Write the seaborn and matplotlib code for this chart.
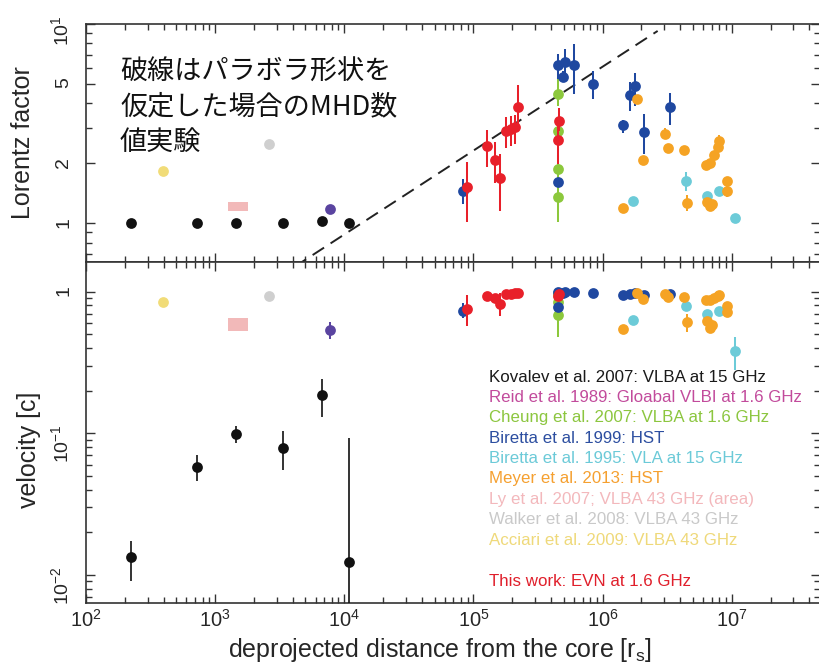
import matplotlib
matplotlib.use("Agg")
import matplotlib.pyplot as plt
import seaborn as sns
from matplotlib.ticker import FixedLocator, FixedFormatter, LogLocator, NullFormatter

# ---------------- data ----------------
# Kovalev et al. 2007 (black)
kov_x = [223, 726, 1455, 3365, 6760, 10900]
kov_gamma = [1.0, 1.0, 1.0, 1.0, 1.03, 1.0]
kov_v = [0.0133, 0.058, 0.099, 0.079, 0.187, 0.0123]
kov_v_lo = [0.0091, 0.046, 0.086, 0.055, 0.13, 0.001]
kov_v_hi = [0.0175, 0.070, 0.112, 0.104, 0.243, 0.093]

# Reid et al. 1989 (purple)
reid_x = [7780]
reid_gamma = [1.175]
reid_v = [0.533]
reid_v_lo = [0.463]
reid_v_hi = [0.607]

# Walker et al. 2008 (grey)
walker_x = [2590]
walker_gamma = [2.5]
walker_v = [0.927]

# Acciari et al. 2009 (yellow)
acc_x = [397]
acc_gamma = [1.84]
acc_v = [0.846]

# Ly et al. 2007 (pink area)
ly_x = [1268, 1810]
ly_gamma_lo = [1.148, 1.148]
ly_gamma_hi = [1.278, 1.278]
ly_v_lo = [0.53, 0.53]
ly_v_hi = [0.652, 0.652]

# Cheung et al. 2007 (green)
ch_x = [454000, 454000, 454000, 454000]
ch_gamma = [4.45, 2.89, 1.88, 1.35]
ch_gamma_lo = [3.9, 2.5, 1.6, 1.02]
ch_gamma_hi = [5.4, 3.3, 2.2, 1.6]
ch_v = [0.98, 0.94, 0.84, 0.68]
ch_v_lo = [0.97, 0.92, 0.80, 0.48]
ch_v_hi = [0.99, 0.96, 0.88, 0.80]

# Biretta et al. 1999 (blue)
b99_x = [82600, 454000, 516000, 492000, 606000, 454000, 841000,
         1.44e6, 1.62e6, 1.78e6, 2.09e6, 3.3e6]
b99_gamma = [1.45, 6.2, 6.46, 5.43, 6.2, 1.61, 5.0, 3.11, 4.4, 4.9, 2.86, 3.82]
b99_gamma_lo = [1.245, 5.3, 5.4, 5.1, 4.48, 1.55, 4.2, 2.85, 3.67, 3.88, 2.23, 3.12]
b99_gamma_hi = [1.66, 7.1, 7.5, 5.8, 7.96, 1.67, 5.8, 3.3, 5.1, 5.7, 3.54, 4.53]
b99_v = [0.734, 0.987, 0.99, 0.983, 0.987, 0.78, 0.98, 0.952, 0.97, 0.975, 0.94, 0.965]
b99_v_lo = [0.65, 0.98, 0.985, 0.975, 0.98, 0.76, 0.97, 0.94, 0.96, 0.965, 0.93, 0.955]
b99_v_hi = [0.83, 0.99, 0.995, 0.99, 0.995, 0.80, 0.99, 0.96, 0.98, 0.985, 0.95, 0.975]

# Biretta et al. 1995 (cyan)
b95_x = [1.72e6, 4.4e6, 6.47e6, 7.98e6, 1.06e7]
b95_gamma = [1.29, 1.64, 1.37, 1.46, 1.07]
b95_gamma_lo = [1.27, 1.45, 1.35, 1.44, 1.06]
b95_gamma_hi = [1.31, 1.82, 1.39, 1.48, 1.08]
b95_v = [0.634, 0.797, 0.696, 0.734, 0.379]
b95_v_lo = [0.61, 0.74, 0.68, 0.72, 0.28]
b95_v_hi = [0.66, 0.85, 0.71, 0.75, 0.48]

# Meyer et al. 2013 (orange)
me_x = [1.44e6, 1.85e6, 2.07e6, 3.04e6, 3.23e6, 4.27e6, 4.53e6, 6.28e6, 6.79e6,
        7.3e6, 7.89e6, 7.98e6, 9.15e6, 9.26e6, 6.47e6, 6.79e6, 7.08e6]
me_gamma = [1.19, 4.2, 2.09, 2.81, 2.38, 2.32, 1.26, 1.97, 2.01,
            2.21, 2.41, 2.58, 1.64, 1.45, 1.28, 1.22, 1.25]
me_gamma_lo = [1.17, 4.05, 2.04, 2.65, 2.33, 2.2, 1.15, 1.93, 1.97,
               2.17, 2.36, 2.42, 1.6, 1.36, 1.25, 1.2, 1.22]
me_gamma_hi = [1.21, 4.35, 2.14, 3.0, 2.43, 2.45, 1.38, 2.01, 2.05,
               2.25, 2.46, 2.78, 1.68, 1.55, 1.31, 1.24, 1.28]
me_v = [0.545, 0.98, 0.888, 0.963, 0.912, 0.917, 0.607, 0.868, 0.87,
        0.90, 0.937, 0.95, 0.797, 0.715, 0.617, 0.555, 0.58]
me_v_lo = [0.535, 0.97, 0.878, 0.953, 0.902, 0.907, 0.516, 0.858, 0.86,
           0.89, 0.927, 0.94, 0.787, 0.705, 0.607, 0.545, 0.57]
me_v_hi = [0.555, 0.99, 0.898, 0.973, 0.922, 0.927, 0.70, 0.878, 0.88,
           0.91, 0.947, 0.96, 0.807, 0.725, 0.627, 0.565, 0.59]

# This work (red)
ew_x = [89300, 128000, 146000, 162000, 180000, 196000, 209000, 221000, 458000, 454000]
ew_gamma = [1.52, 2.44, 2.08, 1.69, 2.92, 2.97, 3.03, 3.85, 3.27, 2.63]
ew_gamma_lo = [1.015, 1.91, 1.59, 1.16, 2.4, 2.45, 2.5, 2.97, 2.9, 1.99]
ew_gamma_hi = [2.03, 2.94, 2.57, 2.23, 3.4, 3.45, 3.5, 4.93, 3.8, 3.2]
ew_v = [0.759, 0.927, 0.903, 0.819, 0.963, 0.97, 0.975, 0.985, 0.963, 0.93]
ew_v_lo = [0.57, 0.90, 0.87, 0.67, 0.95, 0.96, 0.965, 0.975, 0.95, 0.91]
ew_v_hi = [0.95, 0.95, 0.93, 0.98, 0.975, 0.98, 0.985, 0.99, 0.975, 0.95]

# MHD simulation (parabolic shape), dashed line
mhd_x = [3000, 2.67e6]
mhd_gamma = [0.53, 9.23]

legend_labels = [
    "Kovalev et al. 2007: VLBA at 15 GHz",
    "Reid et al. 1989: Gloabal VLBI at 1.6 GHz",
    "Cheung et al. 2007: VLBA at 1.6 GHz",
    "Biretta et al. 1999: HST",
    "Biretta et al. 1995: VLA at 15 GHz",
    "Meyer et al. 2013: HST",
    "Ly et al. 2007; VLBA 43 GHz (area)",
    "Walker et al. 2008: VLBA 43 GHz",
    "Acciari et al. 2009: VLBA 43 GHz",
    "",
    "This work: EVN at 1.6 GHz",
]
legend_colors = ["#1a1a1a", "#c24b9c", "#8cc63f", "#2c4ea0", "#6ccad8",
                 "#f5a030", "#f3b8bc", "#c9c9c9", "#efd97a", "#ffffff", "#e01f2b"]

note_lines = ["破線はパラボラ形状を", "仮定した場合のMHD数", "値実験"]

# colours of the marks
C_BLACK = "#111111"
C_PURPLE = "#5a44a0"
C_GREY = "#cfcfcf"
C_YELLOW = "#f1dc78"
C_PINK = "#f2b9b9"
C_GREEN = "#8cc83c"
C_BLUE = "#1f48a0"
C_CYAN = "#6ccbd8"
C_ORANGE = "#f5a324"
C_RED = "#e8202a"

# ---------------- style ----------------
sns.set_theme(style="ticks")
plt.rcParams["font.family"] = ["Liberation Sans", "Noto Sans CJK JP", "DejaVu Sans"]
plt.rcParams["mathtext.fontset"] = "custom"
plt.rcParams["mathtext.rm"] = "Liberation Sans"
plt.rcParams["mathtext.it"] = "Liberation Sans:italic"
plt.rcParams["mathtext.bf"] = "Liberation Sans:bold"
TXT = "#262626"

fig = plt.figure(figsize=(8.19, 6.63), dpi=100)
L = 86 / 819
W = 1.0 - L + 0.001
ax1 = fig.add_axes([L, (663 - 262) / 663, W, 238 / 663])
ax2 = fig.add_axes([L, (663 - 603) / 663, W, 341 / 663])

XMAX = 10 ** (2 + 733 / 129)
for ax in (ax1, ax2):
    ax.set_xscale("log")
    ax.set_yscale("log")
    ax.set_xlim(100, XMAX)
    for s in ax.spines.values():
        s.set_linewidth(1.2)
        s.set_color("#333333")
        s.set_visible(True)
    ax.xaxis.set_major_locator(LogLocator(base=10, numticks=20))
    ax.xaxis.set_minor_locator(LogLocator(base=10, subs=range(2, 10), numticks=100))
    ax.xaxis.set_minor_formatter(NullFormatter())
    ax.tick_params(which="both", direction="in", top=True, right=True,
                   color="#333333", width=1.0, labelcolor=TXT)
    ax.tick_params(which="major", length=6.5)
    ax.tick_params(which="minor", length=4.0)
    ax.tick_params(axis="y", which="major", labelrotation=90, labelsize=14, pad=10)

ax1.set_ylim(0.64, 10)
ax2.set_ylim(0.00634, 1.62)

ax1.yaxis.set_major_locator(FixedLocator([1, 2, 5, 10]))
ax1.yaxis.set_major_formatter(FixedFormatter(["1", "2", "5", "$10^1$"]))
ax1.yaxis.set_minor_locator(FixedLocator([0.7, 0.8, 0.9, 3, 4, 6, 7, 8, 9]))
ax1.yaxis.set_minor_formatter(NullFormatter())
ax1.tick_params(axis="x", labelbottom=False)

ax2.yaxis.set_major_locator(FixedLocator([0.01, 0.1, 1]))
ax2.yaxis.set_major_formatter(FixedFormatter(["$10^{-2}$", "$10^{-1}$", "1"]))
ax2.yaxis.set_minor_locator(LogLocator(base=10, subs=range(2, 10), numticks=100))
ax2.yaxis.set_minor_formatter(NullFormatter())
ax2.set_xticks([1e2, 1e3, 1e4, 1e5, 1e6, 1e7])
ax2.set_xticklabels(["$10^{2}$", "$10^{3}$", "$10^{4}$", "$10^{5}$", "$10^{6}$", "$10^{7}$"])
ax2.tick_params(axis="x", which="major", labelsize=14.5, pad=4)


def draw(ax, x, y, lo, hi, color, z, lw=1.45):
    if lo is not None:
        ax.vlines(x, lo, hi, colors=color, lw=lw, zorder=z)
    sns.scatterplot(x=x, y=y, color=color, s=60, linewidth=0, ax=ax,
                    zorder=z + 0.5, legend=False)


# ---- top panel: Lorentz factor ----
ax1.plot(mhd_x, mhd_gamma, color="#222222", lw=1.4, dashes=(7, 4), zorder=2)
ax1.fill_between(ly_x, ly_gamma_lo, ly_gamma_hi, color=C_PINK, lw=0, zorder=3)
draw(ax1, kov_x, kov_gamma, None, None, C_BLACK, 4)
draw(ax1, reid_x, reid_gamma, None, None, C_PURPLE, 4)
draw(ax1, walker_x, walker_gamma, None, None, C_GREY, 4)
draw(ax1, acc_x, acc_gamma, None, None, C_YELLOW, 4)
draw(ax1, b95_x, b95_gamma, b95_gamma_lo, b95_gamma_hi, C_CYAN, 5)
draw(ax1, ch_x, ch_gamma, ch_gamma_lo, ch_gamma_hi, C_GREEN, 6)
draw(ax1, b99_x, b99_gamma, b99_gamma_lo, b99_gamma_hi, C_BLUE, 7)
draw(ax1, me_x, me_gamma, me_gamma_lo, me_gamma_hi, C_ORANGE, 8)
draw(ax1, ew_x, ew_gamma, ew_gamma_lo, ew_gamma_hi, C_RED, 9)

# ---- bottom panel: velocity ----
ax2.fill_between(ly_x, ly_v_lo, ly_v_hi, color=C_PINK, lw=0, zorder=3)
draw(ax2, kov_x, kov_v, kov_v_lo, kov_v_hi, C_BLACK, 4, lw=1.2)
draw(ax2, reid_x, reid_v, reid_v_lo, reid_v_hi, C_PURPLE, 4)
draw(ax2, walker_x, walker_v, None, None, C_GREY, 4)
draw(ax2, acc_x, acc_v, None, None, C_YELLOW, 4)
draw(ax2, b95_x, b95_v, b95_v_lo, b95_v_hi, C_CYAN, 5)
draw(ax2, ch_x, ch_v, ch_v_lo, ch_v_hi, C_GREEN, 6)
draw(ax2, b99_x, b99_v, b99_v_lo, b99_v_hi, C_BLUE, 7)
draw(ax2, me_x, me_v, me_v_lo, me_v_hi, C_ORANGE, 8)
draw(ax2, ew_x, ew_v, ew_v_lo, ew_v_hi, C_RED, 9)

# ---- labels ----
ax1.set_ylabel("Lorentz factor", fontsize=18, color=TXT, va="center")
ax1.yaxis.set_label_coords((23 - 86) / 733, 0.5)
ax2.set_ylabel("velocity [c]", fontsize=18, color=TXT, va="center")
ax2.yaxis.set_label_coords((29 - 86) / 733, (603 - 450) / 341)
ax2.set_xlabel("deprojected distance from the core [r$_\\mathrm{s}$]",
               fontsize=18, color=TXT, va="center")
ax2.xaxis.set_label_coords((440 - 86) / 733, (603 - 650) / 341)

# Japanese note
for i, line in enumerate(note_lines):
    ypx = 72 + 35 * i
    ax1.text((120 - 86) / 733, (262 - ypx) / 238, line, transform=ax1.transAxes,
             fontsize=19.5, color="#111111", va="center", ha="left",
             family=["Noto Sans CJK JP", "DejaVu Sans"])

# coloured text legend
for i, (lab, col) in enumerate(zip(legend_labels, legend_colors)):
    if not lab:
        continue
    ypx = 377 + 20.4 * i
    ax2.text((489 - 86) / 733, (603 - ypx) / 341, lab, transform=ax2.transAxes,
             fontsize=12.2, color=col, va="center", ha="left")

fig.savefig("out.png", dpi=100)
